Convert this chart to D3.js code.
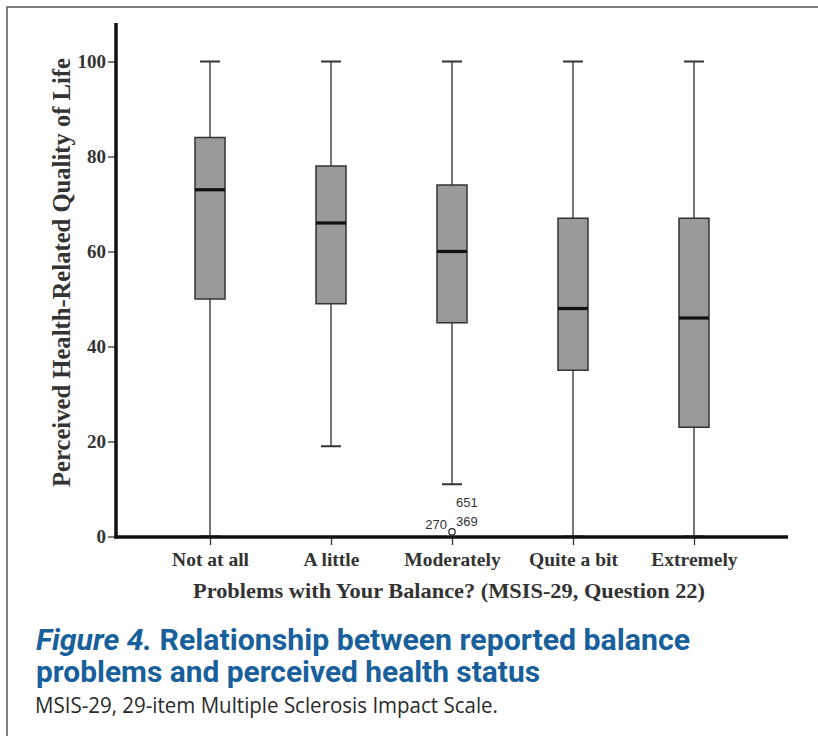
<!DOCTYPE html>
<html>
<head>
<meta charset="utf-8">
<script src="https://cdn.jsdelivr.net/npm/d3@7"></script>
<style>
  html, body { margin: 0; padding: 0; background: #fff; }
  svg { display: block; }
</style>
</head>
<body>
<svg id="chart" width="818" height="736"></svg>
<script>
// ---- data ----
const categories = ["Not at all", "A little", "Moderately", "Quite a bit", "Extremely"];
const whiskerLow  = [0, 19, 11, 0, 0];
const q1          = [50, 49, 45, 35, 23];
const medians     = [73, 66, 60, 48, 46];
const q3          = [84, 78, 74, 67, 67];
const whiskerHigh = [100, 100, 100, 100, 100];
const outlierCategory = ["Moderately", "Moderately", "Moderately"];
const outlierValues   = [1, 1, 1];
const outlierIds      = ["270", "369", "651"];
const yTicks = [0, 20, 40, 60, 80, 100];
const yTitle = "Perceived Health-Related Quality of Life";
const xTitle = "Problems with Your Balance? (MSIS-29, Question 22)";
const captionFig = "Figure 4.";
const captionLine1 = " Relationship between reported balance";
const captionLine2 = "problems and perceived health status";
const captionNote = "MSIS-29, 29-item Multiple Sclerosis Impact Scale.";

const svg = d3.select("#chart");
const serif = "'Liberation Serif', 'Times New Roman', serif";
const sans = "'Liberation Sans', Arial, sans-serif";

// frame
svg.append("path").attr("d", "M7,736 L7,7 L818,7")
  .attr("fill", "none").attr("stroke", "#555").attr("stroke-width", 1.5);

const x = d3.scalePoint().domain(categories).range([116, 788]).padding(0.777);
const y = d3.scaleLinear().domain([0, 108]).range([536.5, 23.5]);

const boxes = categories.map((c, i) => ({
  c, lo: whiskerLow[i], q1: q1[i], med: medians[i], q3: q3[i], hi: whiskerHigh[i]
}));
const boxW = 30, capW = 20;

const g = svg.append("g");
// whiskers
g.selectAll(".wh").data(boxes).join("line")
  .attr("x1", d => x(d.c)).attr("x2", d => x(d.c))
  .attr("y1", d => y(d.lo)).attr("y2", d => y(d.hi))
  .attr("stroke", "#3a3a3a").attr("stroke-width", 1.4);
// caps
["lo", "hi"].forEach(k => {
  g.selectAll(".cap" + k).data(boxes).join("line")
    .attr("x1", d => x(d.c) - capW / 2).attr("x2", d => x(d.c) + capW / 2)
    .attr("y1", d => y(d[k])).attr("y2", d => y(d[k]))
    .attr("stroke", "#333").attr("stroke-width", 2);
});
// boxes
g.selectAll(".box").data(boxes).join("rect")
  .attr("x", d => x(d.c) - boxW / 2).attr("width", boxW)
  .attr("y", d => y(d.q3)).attr("height", d => y(d.q1) - y(d.q3))
  .attr("fill", "#9a9a9a").attr("stroke", "#333").attr("stroke-width", 1.5);
// medians
g.selectAll(".med").data(boxes).join("line")
  .attr("x1", d => x(d.c) - boxW / 2).attr("x2", d => x(d.c) + boxW / 2)
  .attr("y1", d => y(d.med)).attr("y2", d => y(d.med))
  .attr("stroke", "#111").attr("stroke-width", 3.2);

// y axis
const yAxis = d3.axisLeft(y).tickValues(yTicks).tickSize(8).tickPadding(2);
const ya = svg.append("g").attr("transform", "translate(116,0)").call(yAxis);
ya.select(".domain").remove();
ya.selectAll(".tick line").attr("stroke", "#333").attr("stroke-width", 1.3);
ya.selectAll(".tick text").attr("font-family", serif).attr("font-weight", "bold")
  .attr("font-size", 19).attr("fill", "#333").attr("dy", "0.33em");
svg.append("line").attr("x1", 116).attr("x2", 116).attr("y1", 23).attr("y2", 538.5)
  .attr("stroke", "#111").attr("stroke-width", 3.5);

// x axis
const xAxis = d3.axisBottom(x).tickSize(8).tickPadding(7);
const xa = svg.append("g").attr("transform", "translate(0,537)").call(xAxis);
xa.select(".domain").remove();
xa.selectAll(".tick line").attr("stroke", "#333").attr("stroke-width", 1.3);
xa.selectAll(".tick text").attr("font-family", serif).attr("font-weight", "bold")
  .attr("font-size", 19.5).attr("fill", "#333").attr("dy", "0.71em");
svg.append("line").attr("x1", 114.25).attr("x2", 788).attr("y1", 537).attr("y2", 537)
  .attr("stroke", "#111").attr("stroke-width", 3.5);

// outliers
const outs = outlierIds.map((id, i) => ({ id, c: outlierCategory[i], v: outlierValues[i] }));
g.selectAll(".out").data(outs.slice(0, 1)).join("circle")
  .attr("cx", d => x(d.c)).attr("cy", d => y(d.v))
  .attr("r", 3.2).attr("fill", "none").attr("stroke", "#333").attr("stroke-width", 1.3);
const labelOffsets = { "270": [-5, -3, "end"], "369": [4, -6, "start"], "651": [4, -25, "start"] };
svg.selectAll(".outlbl").data(outs).join("text")
  .attr("x", d => x(d.c) + labelOffsets[d.id][0])
  .attr("y", d => y(d.v) + labelOffsets[d.id][1])
  .attr("text-anchor", d => labelOffsets[d.id][2])
  .attr("font-family", sans).attr("font-size", 13).attr("fill", "#333")
  .text(d => d.id);

// axis titles
svg.append("text").attr("transform", "translate(70,487) rotate(-90)")
  .attr("font-family", serif).attr("font-weight", "bold").attr("font-size", 24.5)
  .attr("fill", "#333").attr("textLength", 429).attr("lengthAdjust", "spacingAndGlyphs")
  .text(yTitle);
svg.append("text").attr("x", 449).attr("y", 598).attr("text-anchor", "middle")
  .attr("font-family", serif).attr("font-weight", "bold").attr("font-size", 22)
  .attr("fill", "#333").attr("textLength", 512).attr("lengthAdjust", "spacingAndGlyphs")
  .text(xTitle);

// caption
const blue = "#17609b";
const cap1 = svg.append("text").attr("x", 36).attr("y", 650)
  .attr("font-family", "Roboto, 'Open Sans', sans-serif").attr("font-weight", "bold")
  .attr("font-size", 30).attr("fill", blue)
  .attr("textLength", 654).attr("lengthAdjust", "spacingAndGlyphs");
cap1.append("tspan").attr("font-style", "italic").text(captionFig);
cap1.append("tspan").text(captionLine1);
svg.append("text").attr("x", 36).attr("y", 682)
  .attr("font-family", "Roboto, 'Open Sans', sans-serif").attr("font-weight", "bold")
  .attr("font-size", 30).attr("fill", blue)
  .attr("textLength", 504).attr("lengthAdjust", "spacingAndGlyphs")
  .text(captionLine2);
svg.append("text").attr("x", 35).attr("y", 713)
  .attr("font-family", "'Open Sans', 'Noto Sans', sans-serif")
  .attr("font-size", 21).attr("fill", "#2a2a2a")
  .attr("textLength", 463).attr("lengthAdjust", "spacingAndGlyphs")
  .text(captionNote);
</script>
</body>
</html>
